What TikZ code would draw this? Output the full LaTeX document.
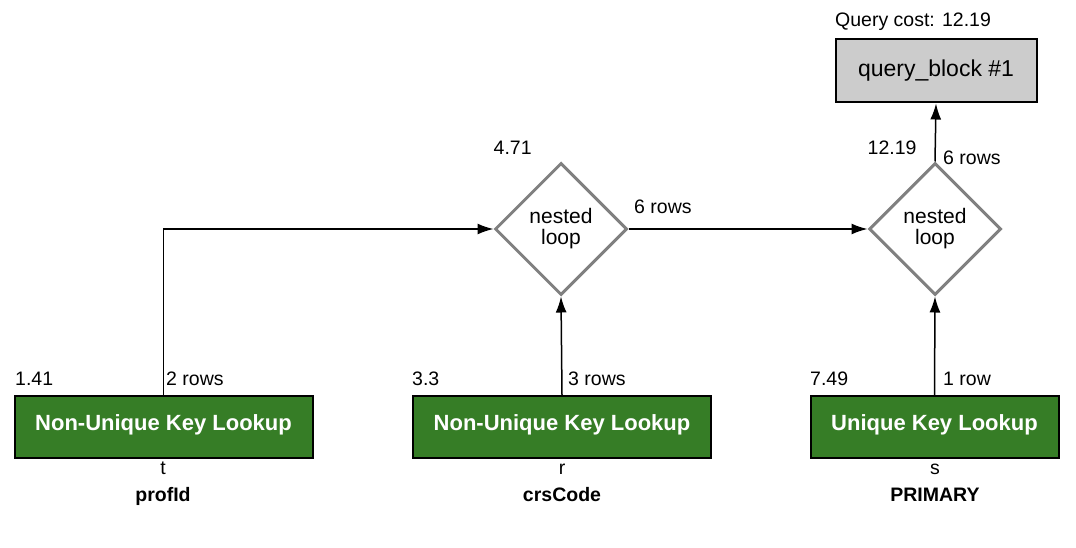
\documentclass[tikz,border=0pt]{standalone}
\usepackage{fontspec}
\setmainfont{Liberation Sans}
\usetikzlibrary{shapes.geometric,arrows.meta,positioning}

\definecolor{lookupgreen}{RGB}{54,125,38}
\definecolor{blockgray}{RGB}{204,204,204}
\definecolor{loopgray}{RGB}{128,128,128}

\tikzset{
  lookup/.style={draw=black,line width=2pt,fill=lookupgreen,text=white,
    minimum height=62pt,inner sep=0pt,text depth=9pt,
    font=\fontsize{22}{22}\bfseries\selectfont},
  nloop/.style={diamond,draw=loopgray,line width=3pt,minimum width=132pt,
    minimum height=132pt,inner sep=0pt,align=center,font=\fontsize{21}{21}\selectfont},
  qblock/.style={draw=black,line width=2pt,fill=blockgray,minimum width=201pt,
    minimum height=63pt,inner sep=0pt,font=\fontsize{23}{23}\selectfont},
  lbl/.style={inner sep=0pt,font=\fontsize{19.5}{19.5}\selectfont},
  tbl/.style={inner sep=0pt,anchor=base,font=\fontsize{19.5}{19.5}\selectfont},
  key/.style={inner sep=0pt,anchor=base,font=\fontsize{19.5}{19.5}\bfseries\selectfont},
  flow/.style={line width=1.5pt,-{Latex[length=16pt,width=11pt]}}
}

\begin{document}
\begin{tikzpicture}[x=1pt,y=-1pt]
  \useasboundingbox (0,0) rectangle (1076,548);

  % operations
  \node[qblock] (qb) at (936,71) {query\_block \#1};
  \node[nloop] (nl1) at (561,229) {nested\\loop};
  \node[nloop] (nl2) at (935,229) {nested\\loop};

  % table accesses
  \node[lookup,minimum width=298pt] (t) at (163.5,427) {Non-Unique Key Lookup};
  \node[lookup,minimum width=298pt] (r) at (562,427) {Non-Unique Key Lookup};
  \node[lookup,minimum width=248pt] (s) at (934.5,427) {Unique Key Lookup};

  % costs
  \node[lbl,anchor=base west] (qcost) at (835,27) {Query cost: 12.19};
  \node[lbl,anchor=base west] (c1) at (nl1.west |- 0,155) {4.71};
  \node[lbl,anchor=base west] (c2) at (nl2.west |- 0,155) {12.19};
  \node[lbl,anchor=base west] (ct) at (15,385) {1.41};
  \node[lbl,anchor=base west] (cr) at (412,385) {3.3};
  \node[lbl,anchor=base west] (cs) at (810,385) {7.49};

  % edges
  \draw[flow] (t.north) |- (nl1.west);
  \draw[flow] (r.north) -- (nl1.south);
  \draw[flow] (nl1.east) -- (nl2.west);
  \draw[flow] (s.north) -- (nl2.south);
  \draw[flow] (nl2.north) -- (qb.south);

  % row counts
  \node[lbl,anchor=base west] (rt) at (166,385) {2 rows};
  \node[lbl,anchor=base west] (rr) at (568,385) {3 rows};
  \node[lbl,anchor=base west] (rs) at (943,385) {1 row};
  \node[lbl,anchor=base west] (r1) at (634,214) {6 rows};
  \node[lbl,anchor=base west] (r2) at (943,165) {6 rows};

  % table names and keys
  \node[tbl] (tn) at (163,474) {t};
  \node[key] (tk) at (163,501) {profId};
  \node[tbl] (rn) at (562,474) {r};
  \node[key] (rk) at (562,501) {crsCode};
  \node[tbl] (sn) at (935,474) {s};
  \node[key] (sk) at (935,501) {PRIMARY};
\end{tikzpicture}
\end{document}
